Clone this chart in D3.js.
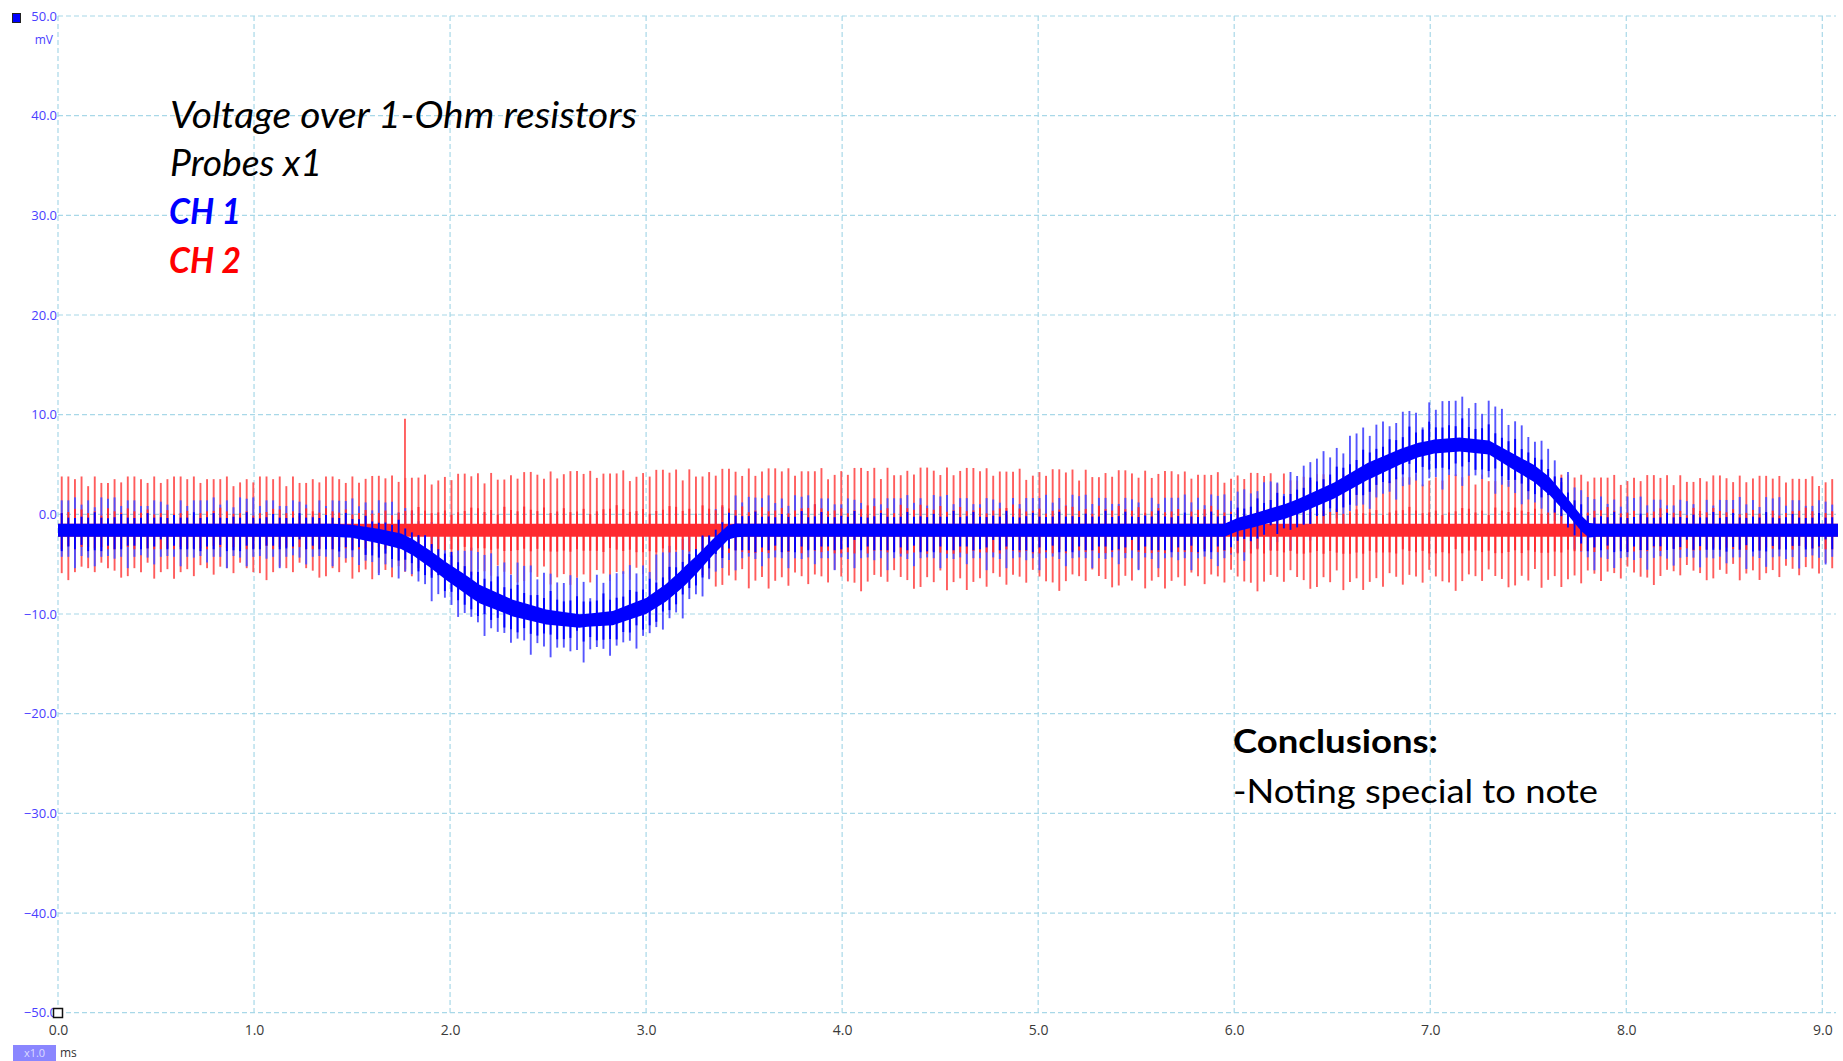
<!DOCTYPE html>
<html><head><meta charset="utf-8">
<script src="https://cdn.jsdelivr.net/npm/d3@7"></script>
<style>
body{margin:0;background:#fff;overflow:hidden}
svg{display:block}
</style>
</head><body>
<svg id="c" width="1843" height="1061"></svg>
<script>
// ---------- data ----------
const xTicks = [0, 1, 2, 3, 4, 5, 6, 7, 8, 9];            // ms
const yTicks = [50, 40, 30, 20, 10, 0, -10, -20, -30, -40, -50]; // mV

// CH1 (blue) band centre, key points (ms, mV)
const ch1CenterT = [0, 1.40, 1.50, 1.64, 1.75, 1.81, 1.90, 1.98, 2.07, 2.15, 2.32, 2.49, 2.66, 2.83, 3.00, 3.10, 3.17, 3.26, 3.34, 3.42, 3.46,
                    5.95, 6.02, 6.10, 6.26, 6.34, 6.51, 6.68, 6.85, 6.94, 7.02, 7.15, 7.30, 7.44, 7.53, 7.61, 7.70, 7.77, 7.81, 9.08];
const ch1CenterV = [-1.6, -1.6, -1.7, -2.2, -2.7, -3.3, -4.5, -5.7, -6.9, -8.0, -9.4, -10.3, -10.7, -10.4, -9.2, -7.9, -6.7, -5.0, -3.3, -1.8, -1.6,
                    -1.6, -1.0, -0.6, 0.3, 0.9, 2.4, 4.3, 5.8, 6.45, 6.8, 7.0, 6.7, 5.1, 4.1, 2.8, 0.8, -0.9, -1.6, -1.6];
// CH1 band half thickness (mV)
const ch1BandT    = [0, 1.5, 1.8, 2.1, 2.4, 2.7, 3.0, 3.2, 3.4, 3.5, 5.95, 6.3, 6.7, 7.0, 7.3, 7.6, 7.8, 7.85, 9.08];
const ch1BandHalf = [0.65, 0.65, 0.8, 0.95, 0.8, 0.65, 0.8, 0.95, 0.75, 0.65, 0.65, 0.75, 0.85, 0.7, 0.7, 0.9, 0.75, 0.65, 0.65];
// CH1 spike reach above / below the band centre (mV)
const ch1OffT   = [0, 1.5, 2.0, 2.7, 3.4, 3.6, 6.0, 6.5, 7.0, 7.5, 7.85, 9.08];
const ch1TopOff = [3.3, 3.3, 4.4, 5.0, 4.0, 3.5, 3.6, 4.5, 5.0, 4.5, 3.4, 3.3];
const ch1BotOff = [3.8, 3.8, 4.2, 4.2, 4.0, 4.0, 4.0, 4.2, 4.4, 4.2, 4.0, 3.8];

// CH2 (red) band centre and spike extremes (mV)
const ch2T      = [0, 1.5, 2.5, 3.5, 4.5, 5.5, 6.5, 7.5, 8.5, 9.08];
const ch2Center = [-1.6, -1.6, -1.6, -1.6, -1.6, -1.6, -1.6, -1.6, -1.6, -1.6];
const ch2Top    = [3.8, 3.8, 4.3, 4.6, 4.7, 4.4, 4.0, 4.0, 3.9, 3.8];
const ch2Bot    = [-6.6, -6.6, -7.2, -7.6, -7.8, -7.6, -7.8, -7.6, -6.8, -6.6];
const ch2BandHalf = 0.65;

// switching spikes: timing and per-spike relative heights
const spikeStartMs = 0.019, spikePeriodMs = 0.0337, traceEndMs = 9.08;
const ch2TopPattern = [1, 1, .95, 1, .82, 1, .88, .88, .95, .89, 1, 1, .95, .88, 1, .88, .95, 1, 1, .95, 1, .88, .95, .95, .95, 1, .82, .89, .95, .89];
const ch2BotPattern = [.86, 1, .84, .73, .76, .84, .65, .76, .81, .95, .92, .76, .84, .65, .97, .84, .78, .97, .84, .78, .92, .70, .76, .89, .73, .76, .86, .65, .76, .84];
const ch1TopPattern = [.91, .91, 1, .78, .91, .7, 1, .96, 1, .74, .91, .91, .74, .74, .91, .87, .78, .44, .91, .74, .91];
const ch1BotPattern = [.7, .7, 1, .68, .72, .95, .7, .68, .75, .7, 1, .7, .66, .72, .9, .7, .68, .7, .95, .7, .72, .68, .85];
// single tall glitch on CH2
const glitchT = [1.77], glitchTop = [9.6];

const titleLines = ["Voltage over 1-Ohm resistors", "Probes x1"];
const chLabels = ["CH 1", "CH 2"];
const conclusions = ["Conclusions:", "-Noting special to note"];

// ---------- drawing ----------
const svg = d3.select("#c");
const x = d3.scaleLinear().domain([0, 9]).range([58, 1822.3]);
const y = d3.scaleLinear().domain([-50, 50]).range([1012.7, 16]);

const c1 = d3.scaleLinear().domain(ch1CenterT).range(ch1CenterV).clamp(true);
const c1h = d3.scaleLinear().domain(ch1BandT).range(ch1BandHalf).clamp(true);
const c1t = d3.scaleLinear().domain(ch1OffT).range(ch1TopOff).clamp(true);
const c1b = d3.scaleLinear().domain(ch1OffT).range(ch1BotOff).clamp(true);
const c2 = d3.scaleLinear().domain(ch2T).range(ch2Center).clamp(true);
const c2t = d3.scaleLinear().domain(ch2T).range(ch2Top).clamp(true);
const c2b = d3.scaleLinear().domain(ch2T).range(ch2Bot).clamp(true);

// grid
const grid = svg.append("g").attr("stroke", "#a8d8e8").attr("stroke-width", 1.2).attr("stroke-dasharray", "5,3");
grid.selectAll("line.v").data(xTicks).join("line")
  .attr("x1", d => x(d)).attr("x2", d => x(d)).attr("y1", y(50)).attr("y2", y(-50));
grid.selectAll("line.h").data(yTicks).join("line")
  .attr("x1", x(0)).attr("x2", 1836).attr("y1", d => y(d)).attr("y2", d => y(d));

// spike times
const spikes = d3.range(spikeStartMs, traceEndMs, spikePeriodMs).map((t, i) => ({t, i}));

const gRedLight = svg.append("g").attr("stroke", "#ff4a4a").attr("stroke-width", 1.9).attr("stroke-opacity", 0.9);
const gBlueLight = svg.append("g").attr("stroke", "#4c4cff").attr("stroke-width", 1.9).attr("stroke-opacity", 0.95);
const gRed = svg.append("g");
const gBlue = svg.append("g");

// red light spikes
gRedLight.selectAll("line").data(spikes).join("line")
  .attr("x1", d => x(d.t)).attr("x2", d => x(d.t))
  .attr("y1", d => { const c = c2(d.t); return y(c + (c2t(d.t) - c) * ch2TopPattern[d.i % ch2TopPattern.length]); })
  .attr("y2", d => { const c = c2(d.t); return y(c + (c2b(d.t) - c) * ch2BotPattern[d.i % ch2BotPattern.length]); });
gRedLight.selectAll("line.g").data(glitchT.map((t, k) => ({t, k}))).join("line").attr("class", "g")
  .attr("x1", d => x(d.t)).attr("x2", d => x(d.t))
  .attr("y1", d => y(glitchTop[d.k])).attr("y2", d => y(c2b(d.t) * 0.85));

// blue light spikes
gBlueLight.selectAll("line").data(spikes).join("line")
  .attr("x1", d => x(d.t)).attr("x2", d => x(d.t))
  .attr("y1", d => y(c1(d.t) + c1t(d.t) * ch1TopPattern[d.i % ch1TopPattern.length]))
  .attr("y2", d => y(c1(d.t) - c1b(d.t) * ch1BotPattern[d.i % ch1BotPattern.length]));

// red band + saturated inner spike parts
gRed.append("path")
  .datum(ch2T)
  .attr("fill", "#ff2a30")
  .attr("d", d3.area().x(t => x(t)).y0(t => y(c2(t) - ch2BandHalf)).y1(t => y(c2(t) + ch2BandHalf)));
gRed.selectAll("line").data(spikes).join("line")
  .attr("stroke", "#ff2a30").attr("stroke-width", 1.9)
  .attr("x1", d => x(d.t)).attr("x2", d => x(d.t))
  .attr("y1", d => { const c = c2(d.t); return y(c + (c2t(d.t) - c) * 0.42 * ch2BotPattern[(d.i + 7) % ch2BotPattern.length]); })
  .attr("y2", d => { const c = c2(d.t); return y(c + (c2b(d.t) - c) * 0.38 * ch2TopPattern[(d.i + 3) % ch2TopPattern.length]); });

// blue band + saturated inner spike parts
const bandTimes = Array.from(new Set(ch1CenterT.concat(ch1BandT))).sort((a, b) => a - b);
gBlue.append("path")
  .datum(bandTimes)
  .attr("fill", "#0000ff")
  .attr("d", d3.area().x(t => x(t)).y0(t => y(c1(t) - c1h(t))).y1(t => y(c1(t) + c1h(t))));
gBlue.selectAll("line").data(spikes).join("line")
  .attr("stroke", "#0000ff").attr("stroke-width", 1.9)
  .attr("x1", d => x(d.t)).attr("x2", d => x(d.t))
  .attr("y1", d => y(c1(d.t) + c1t(d.t) * 0.55 * ch1BotPattern[(d.i + 5) % ch1BotPattern.length]))
  .attr("y2", d => y(c1(d.t) - c1b(d.t) * 0.55 * ch1TopPattern[(d.i + 2) % ch1TopPattern.length]));

// axes labels
const yAxis = svg.append("g").attr("transform", "translate(57,0)")
  .call(d3.axisLeft(y).tickValues(yTicks).tickSize(0).tickPadding(0).tickFormat(d3.format(".1f")));
yAxis.select(".domain").remove();
yAxis.selectAll("text").attr("fill", "#4a40ff").style("font-family", "'Open Sans', 'Noto Sans', sans-serif").style("font-size", "13px");

const xAxis = svg.append("g").attr("transform", `translate(0,${y(-50)})`)
  .call(d3.axisBottom(x).tickValues(xTicks).tickSize(0).tickPadding(12).tickFormat(d3.format(".1f")));
xAxis.select(".domain").remove();
xAxis.selectAll("text").attr("fill", "#3a3a3a").style("font-family", "'Open Sans', 'Noto Sans', sans-serif").style("font-size", "14px");

// unit and markers
svg.append("text").attr("x", 53).attr("y", 44).attr("text-anchor", "end")
  .attr("fill", "#4a40ff").style("font-family", "'Open Sans', sans-serif").style("font-size", "12px").text("mV");
svg.append("rect").attr("x", 12.5).attr("y", 13.5).attr("width", 8).attr("height", 9)
  .attr("fill", "#0000ff").attr("stroke", "#222").attr("stroke-width", 1);
svg.append("rect").attr("x", 53.5).attr("y", 1008.5).attr("width", 9).attr("height", 9)
  .attr("fill", "#fff").attr("stroke", "#111").attr("stroke-width", 1.5);
svg.append("rect").attr("x", 13).attr("y", 1045).attr("width", 43).attr("height", 16).attr("fill", "#8a86ff");
svg.append("text").attr("x", 34.5).attr("y", 1056.5).attr("text-anchor", "middle")
  .attr("fill", "#dcdcff").style("font-family", "'Open Sans', sans-serif").style("font-size", "11px").text("x1.0");
svg.append("text").attr("x", 60).attr("y", 1057)
  .attr("fill", "#333").style("font-family", "'Open Sans', sans-serif").style("font-size", "12px").text("ms");

// annotations
const font = "Lato, 'Open Sans', sans-serif";
const ann = svg.append("g").style("font-family", font);
const tW = [467, 152];
ann.selectAll("text.t").data(titleLines).join("text").attr("class", "t")
  .attr("x", 170).attr("y", (d, i) => 128 + i * 47.5)
  .style("font-style", "italic").style("font-size", "37px").attr("fill", "#000")
  .attr("textLength", (d, i) => tW[i]).attr("lengthAdjust", "spacingAndGlyphs").text(d => d);
const chCol = ["#0000ff", "#ff0000"];
ann.selectAll("text.ch").data(chLabels).join("text").attr("class", "ch")
  .attr("x", 169).attr("y", (d, i) => 224 + i * 48.5)
  .style("font-style", "italic").style("font-weight", "bold").style("font-size", "37px")
  .attr("fill", (d, i) => chCol[i])
  .attr("textLength", 72).attr("lengthAdjust", "spacingAndGlyphs").text(d => d);
const cW = [205, 365];
ann.selectAll("text.cc").data(conclusions).join("text").attr("class", "cc")
  .attr("x", 1233).attr("y", (d, i) => 753 + i * 50)
  .style("font-weight", (d, i) => i === 0 ? "bold" : "normal").style("font-size", "32px").attr("fill", "#000")
  .attr("textLength", (d, i) => cW[i]).attr("lengthAdjust", "spacingAndGlyphs").text(d => d);
</script>
</body></html>
